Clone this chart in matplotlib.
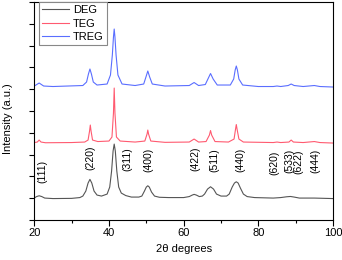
import numpy as np
import matplotlib
matplotlib.use('Agg')
import matplotlib.pyplot as plt

plt.rcParams['font.family'] = ['Liberation Sans', 'DejaVu Sans']

# XRD patterns: 2theta (deg), intensity above baseline (px-ish units)
deg_x = [20, 20.6, 21.3, 22.0, 22.8, 25, 30, 32.2, 33.0, 33.8, 34.4, 34.9, 35.4, 36.0, 36.8,
         38, 39.5, 40.2, 40.7, 41.1, 41.4, 41.7, 42.1, 42.6, 43.3, 44.5, 46, 48, 48.8, 49.5,
         50.0, 50.4, 50.8, 51.4, 52.2, 53.5, 56, 60, 61.5, 62.3, 62.8, 63.4, 64.2, 65.0,
         65.6, 66.4, 67.2, 68.0, 68.8, 70, 71.5, 72.2, 73.0, 73.6, 74.1, 74.6, 75.2, 76.0,
         77.0, 79, 84, 86, 87.6, 88.6, 89.6, 91, 95, 100]
deg_y = [1, 2.5, 3.3, 2.5, 1, 0.5, 0.7, 1.5, 3, 8, 16, 19.7, 16, 8, 4,
         3, 5, 12, 28, 48, 55, 48, 28, 12, 6, 3.5, 2, 2, 3, 8,
         12, 13.3, 12, 7, 3, 1.8, 1.5, 1.5, 2.5, 4, 4.7, 4, 2.5, 3,
         5, 10, 12.3, 10, 5, 3, 3, 5, 12, 16, 17.3, 16, 11, 5,
         2.5, 1.5, 1, 1.5, 2.3, 2.6, 2, 1, 1, 0.5]

teg_x = [20, 20.8, 21.3, 21.8, 23, 30, 33.5, 34.4, 34.8, 35.0, 35.2, 35.6, 37, 40, 40.8,
         41.2, 41.4, 41.6, 42.0, 43, 47, 49.6, 50.2, 50.4, 50.6, 51.2, 55, 61.5, 62.8, 64,
         66, 66.9, 67.2, 67.5, 68.4, 72, 73.5, 73.9, 74.1, 74.3, 74.8, 76, 84, 85, 86,
         88.2, 88.8, 89.4, 92, 95, 96.5, 100]
teg_y = [0.5, 1, 3, 1, 0.3, 0.5, 1, 3, 12, 18, 12, 3, 1.5, 2, 6,
         30, 55, 30, 6, 2, 1, 2, 9, 13, 9, 2, 0.7, 1, 4, 1,
         1.5, 8, 12.5, 8, 1.5, 1, 4, 14, 18.5, 14, 4, 1, 0.5, 1, 0.5,
         1, 3, 1, 0.5, 1.5, 0.5, 0]

treg_x = [20, 21.3, 22.5, 25, 33, 34.0, 34.5, 34.9, 35.3, 35.8, 36.8, 39.5, 40.4, 40.9,
          41.2, 41.4, 41.6, 41.9, 42.4, 43.5, 47, 49.3, 49.9, 50.4, 50.9, 51.6, 55, 61.5,
          62.8, 64, 65.8, 66.5, 67.2, 67.9, 69, 72.5, 73.4, 73.8, 74.1, 74.4, 74.8, 75.8,
          80, 84, 85, 86, 88, 88.8, 89.6, 92, 95, 96.5, 100]
treg_y = [1, 4, 1, 0.5, 1.5, 5, 13, 18, 13, 5, 2, 3, 12, 32,
          50, 58, 50, 32, 12, 3, 1.5, 3, 10, 16, 10, 3, 1, 1.5,
          4.5, 1.5, 2.5, 8, 13.5, 8, 2, 2, 8, 17, 21, 17, 8, 2,
          0.5, 0.5, 1, 0.5, 1.5, 3, 1.5, 0.5, 1.5, 0.5, 0]

names = ['DEG', 'TEG', 'TREG']
baselines = [0.96, 3.53, 6.1]   # stacking offsets
px_per_unit = 21.8

hkl = ['(111)', '(220)', '(311)', '(400)', '(422)', '(511)', '(440)',
       '(620)', '(533)', '(622)', '(444)']
hkl_x = [22.2, 34.9, 44.9, 50.6, 63.2, 68.2, 75.3, 84.4, 88.4, 90.8, 95.3]
hkl_y = [2.25, 2.85, 2.8, 2.75, 2.83, 2.75, 2.78, 2.63, 2.72, 2.67, 2.7]

colors = ['#555555', '#ff5a70', '#5a6eff']

fig = plt.figure(figsize=(3.42, 2.6), dpi=100)
ax = fig.add_axes([34.3/342, 40/260, 298.7/342, 218/260])

for xs, ys, base, c, n in zip([deg_x, teg_x, treg_x], [deg_y, teg_y, treg_y],
                              baselines, colors, names):
    ax.plot(xs, base + np.array(ys)/px_per_unit, color=c, lw=0.8, label=n)

for t, x, y in zip(hkl, hkl_x, hkl_y):
    ax.text(x, y, t, rotation=90, ha='center', va='center', fontsize=7.5)

ax.set_xlim(20, 100)
ax.set_ylim(0, 10)
ax.set_xticks([20, 40, 60, 80, 100])
ax.set_xticks([30, 50, 70, 90], minor=True)
ax.set_yticks(np.arange(0, 11, 1))
ax.set_yticklabels([])
ax.tick_params(axis='x', which='major', length=4, width=0.8, labelsize=8, pad=2)
ax.tick_params(axis='x', which='minor', length=2.5, width=0.8)
ax.tick_params(axis='y', length=3.5, width=0.8)
for s in ax.spines.values():
    s.set_linewidth(0.8)

ax.set_xlabel('2θ degrees', fontsize=8, labelpad=4)
ax.set_ylabel('Intensity (a.u.)', fontsize=8, labelpad=8)
ax.yaxis.set_label_coords(-0.072, 0.463)

leg = ax.legend(loc='upper left', bbox_to_anchor=(0.016, 1.0), borderaxespad=0,
                fontsize=8, handlelength=2.4, handletextpad=0.35, labelspacing=0.3,
                borderpad=0.3, fancybox=False, framealpha=1)
leg.get_frame().set_edgecolor('#888888')
leg.get_frame().set_linewidth(0.8)

fig.savefig('out.png', dpi=100)
